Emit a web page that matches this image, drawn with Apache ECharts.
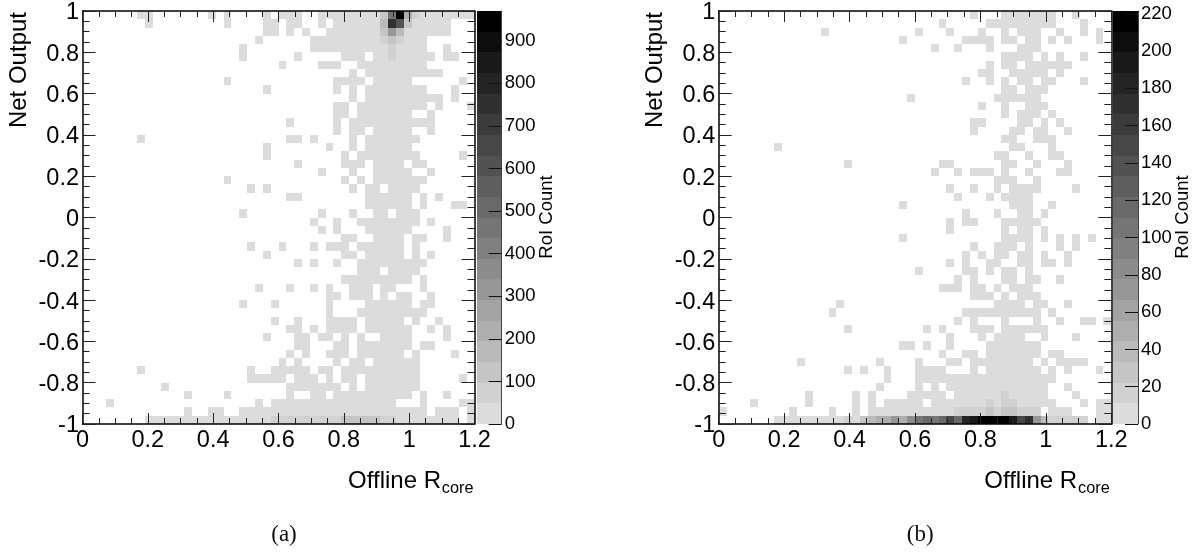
<!DOCTYPE html>
<html>
<head>
<meta charset="utf-8">
<style>
	html, body { margin: 0; padding: 0; background: #fff; }
	#chart { width: 1203px; height: 554px; }
</style>
<script src="https://cdn.jsdelivr.net/npm/echarts@6/dist/echarts.min.js"></script>
</head>
<body>
<div id="chart"></div>
<script>
// 50 x 50 bins, rows go from top (Net Output 1) to bottom (-1)
const binsX = 50;
const binsY = 50;
const xMax = 1.2;

// occupied cells in the lowest colour band, one string of column runs per row
const lowCellsA = [
	"7-8 16 18 23 25-27 30-49", "8 18 23-24 26-27 30 32-46", "23-24 26 28 31-46", "22 29-43", "20 29-43 46",
	"20 27 33-35 37-44 46-47", "25 30-32 35-43", "34 36-45", "18 32-35 37-41 48", "23 32 34 36-43 47",
	"34 36-45 47", "32-33 35-43 45 49", "32-33 35-41 44", "26 32 34-44", "32 34-35 37-41 44",
	"7 26-27 29 34 36-42", "23 31 34 36-41", "23 33 35-42 48", "27 33-35 37-40 42-43", "30 34 37-41 44",
	"18 33 35 37-43", "21 23 34 36-37 39-42", "26-27 36-41 43 45", "36-41 43 47-48", "20 30 34 37-38 40-42",
	"29 32 35-42 44", "30 32 36-41 46", "33-34 37-40 42-43 46", "21 25 29 31-33 35-40 42", "23 33-34 36-40 42 44",
	"27 29 32 35-43", "35-37 39-42", "33-41 43", "22 26 29 31 34-36 38-39 43", "31-32 34-36 38 40-41 44",
	"20 24 31 36-41 43-44", "31 35-43", "24 27 31-34 36-40 42 45", "26-27 29 31-34 36-41 44 46", "23 27-28 30-31 33 35 38-41 46",
	"27-28 32-33 35-41 43-44", "26 28 31-33 35-40 42 47", "25 27 32 34-35 37-42", "7 21 24-28 30-31 33-42", "21-25 27-29 31 33-34 36-42 48",
	"10 26-32 34 36-42", "13 18 26 29-30 32-41 43 46", "3 22 24-39 43 48-49", "13 16-17 20-43 45-47 49", "8-47 49"
];
const lowCellsB = [
	"32 36-42 45", "28 34-42 46", "13 25 29 33 36 38-40 43 46 48", "23 31-34 36-37 39-40 42 44 48", "27 30 34 38-40",
	"36-39 41 43 46", "34 36-37 39-44", "33-34 37-41 43", "31 34 36 38-39 41-42 46", "36-37 39-41",
	"24 35-40", "33 36 39-41", "36 38-40 42", "32-33 38-39 41 43", "32 37-38 40-41 44",
	"36-37 40-42", "7 37-38 42", "35-36 39 42-43", "16 28-29 36-37 40 44", "27 30 32-34 36 39 43-44",
	"35-37 40", "29 32 35 37-40 45", "30 34 36-39", "23 37-39 42", "31 35 38-39 41",
	"29 31-32 36-40", "29 36 38-39 41", "23 36-39 41 43 45 47", "32 35-37 39 43 45", "31 33 35-36 38-39 41 44",
	"29 31 34-35 38-39 41-42 44", "25 31-32 34 36-37 39", "30 32 36-37 39-40 43", "28-30 32-33 35 37-39", "32-34 36 38-40",
	"15 35-38 40-41 44", "14 31-40 42", "30 32 36 40 43 46-47 49", "16 26 28 32-34 36-41", "29 33 35-38 41 45",
	"23-24 26 29 34-40", "28 31-32 34-40 42-43", "10 20 25 29-30 32-39 41 43-46", "16 18 21 25-28 32 34-40 42 44 48", "21 25-42",
	"20 25 27 29-41 44", "11 17 19 24-28 30-41 45", "4 11 17 19 21-25 27-42 46 48-49", "0 9 14 17 19-40 42-44 48-49", "7-46 48-49"
];
const lowCountA = 20;
const lowCountB = 5;

// cells above the lowest band: [column, row, RoI count]
const hotCellsA = [
	[38,0,130],[39,0,460],[40,0,960],[41,0,220],[42,0,80],
	[38,1,170],[39,1,750],[40,1,600],[41,1,130],
	[38,2,110],[39,2,310],[40,2,170],
	[38,3,70],[39,3,120],[40,3,70],[39,4,70],[39,5,70],
	[24,49,65],[25,49,65],[26,49,65],[27,49,65],[28,49,65],[29,49,65],[30,49,65],[31,49,65],[32,49,65],
	[33,49,120],[34,49,120],[35,49,120],[36,49,120],[37,49,120],[38,49,65],[39,49,65]
];
const hotCellsB = [
	[34,47,16],[36,46,14],[36,47,16],[37,47,14],
	[30,48,16],[31,48,16],[32,48,16],[33,48,18],[34,48,27],[35,48,18],[36,48,27],[37,48,27],[38,48,16],[39,48,16],[40,48,16],
	[16,49,16],[18,49,27],[19,49,38],[20,49,49],[21,49,49],[22,49,71],[23,49,49],[24,49,83],
	[25,49,105],[26,49,116],[27,49,105],[28,49,116],[29,49,149],[30,49,116],[31,49,182],[32,49,193],
	[33,49,216],[34,49,220],[35,49,220],[36,49,216],[37,49,193],[38,49,149],[39,49,171],[40,49,71],[41,49,38],
	[42,49,16],[43,49,16],[44,49,16],[45,49,16],[46,49,16]
];

const zMaxA = 970;
const zMaxB = 221.5;
const zIntervalA = 100;
const zIntervalB = 20;
const grayLevels = ['#dcdcdc','#d1d1d1','#c5c5c5','#bababa','#aeaeae','#a3a3a3','#979797','#8c8c8c','#808080','#757575',
	'#696969','#5e5e5e','#525252','#474747','#3b3b3b','#303030','#242424','#191919','#0d0d0d','#000000'];

const fontName = '"Liberation Sans", Arial, sans-serif';

function buildCells(lowRows, lowCount, hotCells) {
	var grid = {};
	lowRows.forEach(function (runs, row) {
		runs.split(' ').forEach(function (run) {
			var ends = run.split('-').map(Number);
			var last = ends.length > 1 ? ends[1] : ends[0];
			for (var col = ends[0]; col <= last; col++) {
				grid[col + '_' + row] = [col, row, lowCount];
			}
		});
	});
	hotCells.forEach(function (c) {
		grid[c[0] + '_' + c[1]] = c;
	});
	var out = [];
	for (var key in grid) {
		var c = grid[key];
		// x0, x1, y0, y1, count
		out.push([c[0] * xMax / binsX, (c[0] + 1) * xMax / binsX, 1 - (c[1] + 1) * 2 / binsY, 1 - c[1] * 2 / binsY, c[2]]);
	}
	return out;
}

function levelColor(count, zMax) {
	var i = Math.floor(count / zMax * grayLevels.length);
	return grayLevels[Math.min(i, grayLevels.length - 1)];
}

function rectSeries(data, xIdx, yIdx, zMax) {
	return {
		type: 'custom',
		xAxisIndex: xIdx,
		yAxisIndex: yIdx,
		silent: true,
		clip: true,
		encode: { x: [0, 1], y: [2, 3] },
		data: data,
		renderItem: function (params, api) {
			// snap to whole pixels, otherwise thin seams show between neighbours
			var a = api.coord([api.value(0), api.value(3)]).map(Math.round);
			var b = api.coord([api.value(1), api.value(2)]).map(Math.round);
			return {
				type: 'rect',
				shape: { x: a[0], y: a[1], width: b[0] - a[0], height: b[1] - a[1] },
				style: { fill: levelColor(api.value(4), zMax), stroke: null }
			};
		}
	};
}

function barCells(zMax) {
	return grayLevels.map(function (g, i) {
		return [0, 1, i * zMax / grayLevels.length, (i + 1) * zMax / grayLevels.length, (i + 0.5) * zMax / grayLevels.length];
	});
}

function frameAxis(gridIndex, position, min, max, showLabel) {
	var vertical = position == 'left' || position == 'right';
	var label = {
		show: showLabel,
		color: '#000',
		fontFamily: fontName,
		fontSize: 23.5,
		margin: vertical ? 3.5 : 5
	};
	if (vertical) {
		// the y labels sit a little under their ticks in the reference
		label.formatter = function (v) { return '{v|' + v + '}'; };
		label.rich = { v: { fontFamily: fontName, fontSize: 23.5, color: '#000', padding: [4, 0, 0, 0] } };
	}
	return {
		type: 'value',
		gridIndex: gridIndex,
		position: position,
		min: min,
		max: max,
		interval: 0.2,
		z: 5,
		axisLine: { show: true, onZero: false, lineStyle: { color: '#000', width: 1.5 } },
		axisTick: { show: true, inside: true, length: vertical ? 13 : 11, lineStyle: { color: '#222', width: 1 } },
		minorTick: { show: true, splitNumber: 4, length: vertical ? 7 : 6, lineStyle: { color: '#222', width: 1 } },
		splitLine: { show: false },
		minorSplitLine: { show: false },
		axisLabel: label
	};
}

function barAxisY(gridIndex, zMax, interval) {
	return {
		type: 'value',
		gridIndex: gridIndex,
		position: 'right',
		min: 0,
		max: zMax,
		interval: interval,
		z: 5,
		axisLine: { show: true, onZero: false, lineStyle: { color: '#444', width: 1 } },
		axisTick: { show: true, inside: true, length: 13, lineStyle: { color: '#111', width: 1 } },
		splitLine: { show: false },
		axisLabel: {
			color: '#000',
			fontFamily: fontName,
			fontSize: 18.5,
			margin: 3,
			showMaxLabel: false
		}
	};
}

function barAxisX(gridIndex) {
	return { type: 'value', gridIndex: gridIndex, min: 0, max: 1, show: false };
}

// axis titles and the sub-figure label, dx moves them to the second panel
function sideTexts(dx, label) {
	return [
		{ type: 'text', x: 19.5 + dx, y: 12, rotation: Math.PI / 2,
			style: { text: 'Net Output', fontFamily: fontName, fontSize: 24, fill: '#000', align: 'right', verticalAlign: 'middle' } },
		{ type: 'text', x: 441 + dx, y: 481,
			style: { text: 'Offline R', fontFamily: fontName, fontSize: 24, fill: '#000', align: 'right', verticalAlign: 'middle' } },
		{ type: 'text', x: 473.5 + dx, y: 489,
			style: { text: 'core', fontFamily: fontName, fontSize: 16.3, fill: '#000', align: 'right', verticalAlign: 'middle' } },
		{ type: 'text', x: 547 + dx, y: 217, rotation: Math.PI / 2,
			style: { text: 'RoI Count', fontFamily: fontName, fontSize: 18.5, fill: '#000', align: 'center', verticalAlign: 'middle' } },
		{ type: 'text', x: 284 + dx, y: 535,
			style: { text: label, fontFamily: '"Liberation Serif", serif', fontSize: 23, fill: '#111', align: 'center', verticalAlign: 'middle' } }
	];
}

var option = {
	animation: false,
	backgroundColor: '#fff',
	grid: [
		{ left: 82.5, top: 11, width: 392, height: 413 },
		{ left: 477, top: 11, width: 24.7, height: 413 },
		{ left: 718.7, top: 11, width: 392.6, height: 413 },
		{ left: 1113, top: 11, width: 25, height: 413 }
	],
	xAxis: [
		frameAxis(0, 'bottom', 0, xMax, true),
		frameAxis(0, 'top', 0, xMax, false),
		barAxisX(1),
		frameAxis(2, 'bottom', 0, xMax, true),
		frameAxis(2, 'top', 0, xMax, false),
		barAxisX(3)
	],
	yAxis: [
		frameAxis(0, 'left', -1, 1, true),
		frameAxis(0, 'right', -1, 1, false),
		barAxisY(1, zMaxA, zIntervalA),
		frameAxis(2, 'left', -1, 1, true),
		frameAxis(2, 'right', -1, 1, false),
		barAxisY(3, zMaxB, zIntervalB)
	],
	series: [
		rectSeries(buildCells(lowCellsA, lowCountA, hotCellsA), 0, 0, zMaxA),
		rectSeries(barCells(zMaxA), 2, 2, zMaxA),
		rectSeries(buildCells(lowCellsB, lowCountB, hotCellsB), 3, 3, zMaxB),
		rectSeries(barCells(zMaxB), 5, 5, zMaxB)
	],
	graphic: sideTexts(0, '(a)').concat(sideTexts(636.2, '(b)'))
};

var myChart = echarts.init(document.getElementById('chart'));
myChart.setOption(option);
</script>
</body>
</html>
